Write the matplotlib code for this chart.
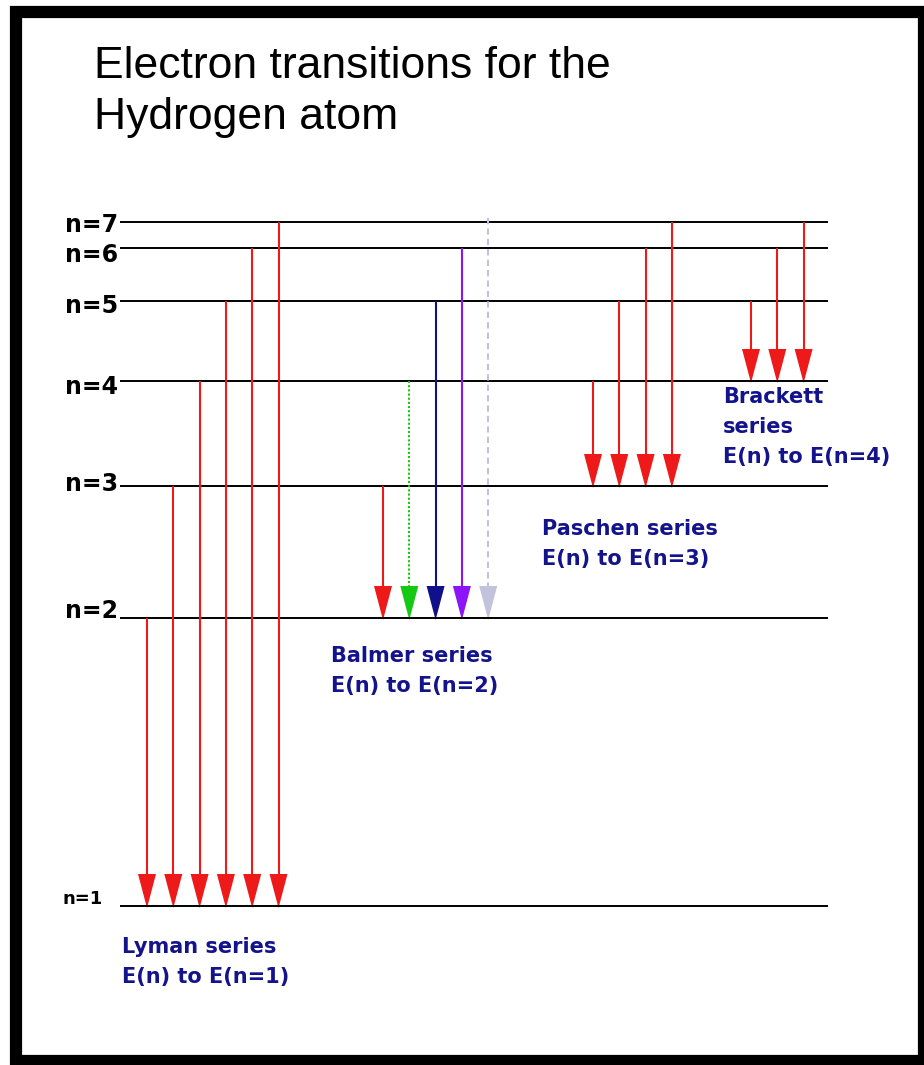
import matplotlib.pyplot as plt
from matplotlib.patches import Rectangle, Polygon

# energy levels, heights measured upward from n=1 (diagram units)
level_n = [1, 2, 3, 4, 5, 6, 7]
level_heights = [0, 288, 420, 525, 605, 658, 684]
level_labels = ["n=1", "n=2", "n=3", "n=4", "n=5", "n=6", "n=7"]

# spectral series: final level and the upper levels that drop into it
series_final = [1, 2, 3, 4]
series_upper = [[2, 3, 4, 5, 6, 7], [3, 4, 5, 6, 7], [4, 5, 6, 7], [5, 6, 7]]
series_text = [
    ["Lyman series", "E(n) to E(n=1)"],
    ["Balmer series", "E(n) to E(n=2)"],
    ["Paschen series", "E(n) to E(n=3)"],
    ["Brackett", "series", "E(n) to E(n=4)"],
]
balmer_colors = ["#ee1a1a", "#14c814", "#10108a", "#8c14f6", "#c2c2dc"]

RED = "#ee1a1a"
NAVY = "#13138c"

# layout is worked out in pixels of the 924x1065 picture
W, H = 924, 1065
BASE = 906          # pixel row of n=1


def Y(p):
    return BASE - p


fig = plt.figure(figsize=(W / 100, H / 100), dpi=100)
ax = fig.add_axes([0, 0, 1, 1])
ax.set_xlim(0, W)
ax.set_ylim(Y(H), Y(0))
ax.axis("off")

height = dict(zip(level_n, level_heights))

# frame
ax.add_patch(Rectangle((15.5, Y(1061)), W - 15.5, 1061 - 12, fill=False,
                       edgecolor="black", lw=8.8, joinstyle="miter"))

# title
ax.text(94, Y(78), "Electron transitions for the", family="Liberation Sans",
        fontsize=32, va="baseline", ha="left")
ax.text(94, Y(129), "Hydrogen atom", family="Liberation Sans",
        fontsize=32, va="baseline", ha="left")

# level lines and labels
ax.hlines(level_heights, 120, 828, color="black", lw=1.4)
label_drop = [-2, 0, 5, 13, 12, 14, 10]
for n, h, lab, d in zip(level_n, level_heights, level_labels, label_drop):
    ax.text(118 if n > 1 else 103, h - d, lab, ha="right", va="baseline",
            family="DejaVu Sans", fontweight="bold",
            fontsize=17 if n > 1 else 13)

# arrows
x_start = [147, 383, 593, 751]
step = 26.3
head_w, head_len = 18, 32
for k, (final, uppers) in enumerate(zip(series_final, series_upper)):
    y_bot = height[final]
    for i, up in enumerate(uppers):
        x = x_start[k] + step * i
        color = balmer_colors[i] if k == 1 else RED
        ls = "-"
        y_top = height[up]
        if k == 1 and i == 1:
            ls = (0, (1, 1))
        if k == 1 and i == 4:
            ls = (0, (3, 2))
            y_top = height[up] + 4
        ax.plot([x, x], [y_top, y_bot + head_len - 2], color=color, lw=1.5,
                ls=ls, solid_capstyle="butt")
        ax.add_patch(Polygon([(x - head_w / 2, y_bot + head_len),
                              (x + head_w / 2, y_bot + head_len),
                              (x, y_bot - 2)], closed=True,
                             facecolor=color, edgecolor="none"))

# series captions
caption_pos = [(122, 953), (331, 662), (542, 535), (723, 403)]
for (cx, cy), lines in zip(caption_pos, series_text):
    for j, line in enumerate(lines):
        ax.text(cx, Y(cy + 30 * j), line, color=NAVY, family="DejaVu Sans",
                fontweight="bold", fontsize=15, ha="left", va="baseline")

fig.savefig("out.png", dpi=100)
